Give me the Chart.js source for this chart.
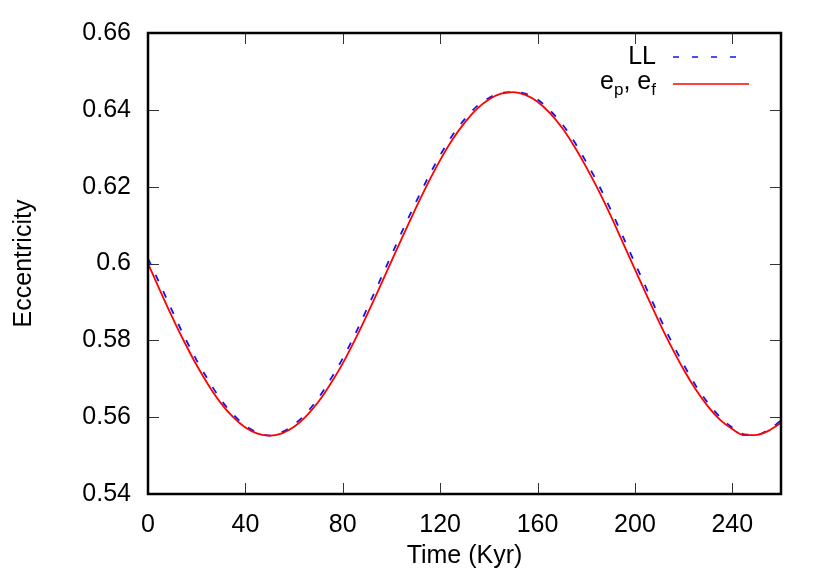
<!DOCTYPE html>
<html>
<head>
<meta charset="utf-8">
<script src="https://cdn.jsdelivr.net/npm/chart.js@4.4.1/dist/chart.umd.min.js"></script>
<style>
  html, body { margin: 0; padding: 0; background: #fff; }
  #wrap { width: 830px; height: 581px; }
</style>
</head>
<body>
<div id="wrap"><canvas id="chart" width="830" height="581"></canvas></div>
<script>
// time in Kyr
let times = [0, 5, 10, 15, 20, 25, 30, 35, 40, 45, 50, 55, 60, 65, 70, 75, 80, 85, 90, 95,
  100, 105, 110, 115, 120, 125, 130, 135, 140, 145, 150, 155, 160, 165, 170, 175, 180, 185, 190, 195,
  200, 205, 210, 215, 220, 225, 230, 235, 240, 245, 250, 255, 260];

let eccLL = [0.6013, 0.5945, 0.5876, 0.5809, 0.5748, 0.5694, 0.5645, 0.5607, 0.5578, 0.5560,
  0.5552, 0.5561, 0.5581, 0.5610, 0.5650, 0.5699, 0.5753, 0.5815, 0.5883, 0.5952,
  0.6022, 0.6092, 0.6159, 0.6223, 0.6282, 0.6333, 0.6375, 0.6409, 0.6431, 0.6444,
  0.6446, 0.6442, 0.6427, 0.6399, 0.6364, 0.6318, 0.6264, 0.6206, 0.6141, 0.6071,
  0.6001, 0.5931, 0.5862, 0.5797, 0.5737, 0.5682, 0.5637, 0.5600, 0.5573, 0.5555,
  0.5554, 0.5568, 0.5591];

let eccPF = [0.6000, 0.5929, 0.5860, 0.5795, 0.5735, 0.5682, 0.5636, 0.5600, 0.5573, 0.5557,
  0.5552, 0.5558, 0.5575, 0.5603, 0.5640, 0.5687, 0.5740, 0.5801, 0.5867, 0.5936,
  0.6006, 0.6076, 0.6144, 0.6209, 0.6269, 0.6322, 0.6366, 0.6402, 0.6427, 0.6442,
  0.6446, 0.6439, 0.6421, 0.6392, 0.6354, 0.6306, 0.6251, 0.6191, 0.6125, 0.6055,
  0.5985, 0.5915, 0.5847, 0.5783, 0.5724, 0.5672, 0.5628, 0.5593, 0.5569, 0.5553,
  0.5554, 0.5565, 0.5585];

let xTicks = [0, 40, 80, 120, 160, 200, 240];
let yTicks = [0.54, 0.56, 0.58, 0.6, 0.62, 0.64, 0.66];
let yTickLabels = ["0.54", "0.56", "0.58", "0.6", "0.62", "0.64", "0.66"];

let blue = "#1414ec";
let red = "#ff0000";
let font = "Liberation Sans";

function pts(ys) {
  return times.map((t, i) => ({ x: t, y: ys[i] }));
}

// gnuplot style frame, inward ticks on all sides, legend at top right
let gnuFrame = {
  id: "gnuFrame",
  beforeDatasetsDraw(chart) {
    let ctx = chart.ctx;
    let a = chart.chartArea;
    let xs = chart.scales.x, ys = chart.scales.y;
    ctx.save();
    ctx.strokeStyle = "#333";
    ctx.lineWidth = 1;
    ctx.beginPath();
    for (const v of xTicks) {
      let px = Math.round(xs.getPixelForValue(v)) + 0.5;
      ctx.moveTo(px, a.bottom); ctx.lineTo(px, a.bottom - 11);
      ctx.moveTo(px, a.top); ctx.lineTo(px, a.top + 11);
    }
    for (const v of yTicks) {
      let py = Math.round(ys.getPixelForValue(v)) + 0.5;
      ctx.moveTo(a.left, py); ctx.lineTo(a.left + 11, py);
      ctx.moveTo(a.right, py); ctx.lineTo(a.right - 11, py);
    }
    ctx.stroke();
    ctx.restore();
  },
  afterDatasetsDraw(chart) {
    let ctx = chart.ctx;
    let a = chart.chartArea;
    ctx.save();
    ctx.strokeStyle = "#000";
    ctx.lineWidth = 2.5;
    ctx.strokeRect(a.left, a.top, a.right - a.left, a.bottom - a.top);
    ctx.restore();
  },
  afterDraw(chart) {
    let ctx = chart.ctx;
    ctx.save();
    ctx.fillStyle = "#000";
    ctx.textBaseline = "middle";
    ctx.textAlign = "right";
    // row 1: LL
    ctx.font = "25px '" + font + "'";
    ctx.fillText(chart.data.datasets[0].label, 656, 57);
    ctx.strokeStyle = blue;
    ctx.lineWidth = 1.6;
    ctx.setLineDash([6, 13]);
    ctx.beginPath(); ctx.moveTo(673, 57); ctx.lineTo(749, 57); ctx.stroke();
    // row 2: e_p, e_f
    ctx.setLineDash([]);
    ctx.strokeStyle = red;
    ctx.beginPath(); ctx.moveTo(673, 84); ctx.lineTo(749, 84); ctx.stroke();
    let parts = [["e", 0], ["p", 1], [", e", 0], ["f", 1]];
    ctx.textAlign = "left";
    let widths = parts.map(p => {
      ctx.font = (p[1] ? "17px '" : "25px '") + font + "'";
      return ctx.measureText(p[0]).width;
    });
    let total = widths.reduce((s, w) => s + w, 0);
    let x = 656 - total;
    parts.forEach((p, i) => {
      ctx.font = (p[1] ? "17px '" : "25px '") + font + "'";
      ctx.fillText(p[0], x, p[1] ? 90 : 82);
      x += widths[i];
    });
    ctx.restore();
  }
};

let el = document.getElementById("chart");
let ctx = el.getContext("2d");
let myChart = new Chart(ctx, {
  type: "line",
  data: {
    datasets: [
      {
        label: "LL",
        borderColor: blue,
        backgroundColor: blue,
        borderWidth: 1.8,
        borderDash: [7, 11],
        pointRadius: 0,
        cubicInterpolationMode: "monotone",
        order: 1,
        data: pts(eccLL),
      },
      {
        label: "e_p, e_f",
        borderColor: red,
        backgroundColor: red,
        borderWidth: 1.8,
        pointRadius: 0,
        cubicInterpolationMode: "monotone",
        order: 0,
        data: pts(eccPF),
      },
    ],
  },
  options: {
    responsive: false,
    animation: false,
    layout: { padding: { top: 33, right: 49, left: 0, bottom: 0 } },
    plugins: { legend: { display: false }, tooltip: { enabled: false } },
    scales: {
      x: {
        type: "linear",
        min: 0,
        max: 260,
        afterBuildTicks: (s) => { s.ticks = xTicks.map(v => ({ value: v })); },
        afterFit: (s) => { s.height = 87; },
        grid: { display: false, drawTicks: false },
        border: { display: false },
        ticks: { color: "#000", padding: 16, maxRotation: 0, font: { family: font, size: 25 } },
        title: {
          display: true, text: "Time (Kyr)", color: "#000",
          font: { family: font, size: 25 }, padding: { top: 0, bottom: 10 },
        },
      },
      y: {
        type: "linear",
        min: 0.54,
        max: 0.66,
        afterBuildTicks: (s) => { s.ticks = yTicks.map(v => ({ value: v })); },
        afterFit: (s) => { s.width = 148; },
        grid: { display: false, drawTicks: false },
        border: { display: false },
        ticks: {
          color: "#000", padding: 17, font: { family: font, size: 25 },
          callback: (v) => { let i = yTicks.findIndex(t => Math.abs(t - v) < 1e-9); return i >= 0 ? yTickLabels[i] : ""; },
        },
        title: {
          display: true, text: "Eccentricity", color: "#000",
          font: { family: font, size: 25 }, padding: { top: 9, bottom: 0 },
        },
      },
    },
  },
  plugins: [gnuFrame],
});
</script>
</body>
</html>
